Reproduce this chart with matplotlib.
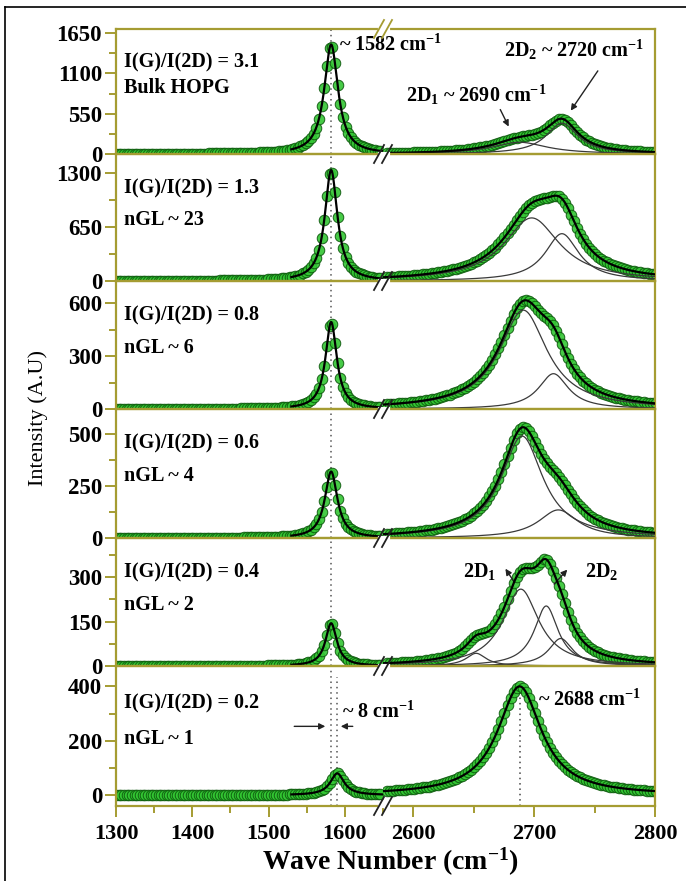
import numpy as np
import matplotlib.pyplot as plt
from matplotlib.lines import Line2D
from matplotlib.ticker import MultipleLocator

plt.rcParams['font.family'] = ['Liberation Serif', 'DejaVu Serif']
plt.rcParams['font.weight'] = 'bold'
plt.rcParams['mathtext.fontset'] = 'custom'
plt.rcParams['mathtext.rm'] = 'Liberation Serif:bold'
plt.rcParams['mathtext.it'] = 'Liberation Serif:bold'
plt.rcParams['mathtext.bf'] = 'Liberation Serif:bold'
plt.rcParams['mathtext.default'] = 'rm'

# samples, top to bottom
ratio = [3.1, 1.3, 0.8, 0.6, 0.4, 0.2]
layers = ['Bulk HOPG', 'nGL ~ 23', 'nGL ~ 6', 'nGL ~ 4', 'nGL ~ 2', 'nGL ~ 1']

# G band centre and FWHM (cm-1)
g_pos = [1582, 1582, 1582, 1582, 1582, 1590]
g_fwhm = [22, 20, 18, 20, 18, 22]

# 2D band lorentzian components: (centre, FWHM, height)
d2_peaks = [
    [(2688, 55, 160), (2723, 32, 420)],
    [(2698, 56, 760), (2723, 34, 570)],
    [(2691, 48, 560), (2716, 30, 200)],
    [(2690, 42, 490), (2720, 40, 135)],
    [(2652, 20, 43), (2689, 36, 260), (2710, 24, 203), (2722, 24, 93)],
    [(2688, 44, 400)],
]

# y range and major tick step of each panel
y_lims = [(0, 1705), (0, 1530), (0, 725), (0, 620), (0, 433), (-40, 475)]
y_step = [550, 650, 300, 250, 150, 200]

x_left = (1300, 1650)
x_right = (2575, 2800)

W, H = 686, 881
olive = '#a59c32'
FS = 14.5


def lorentz(x, x0, fwhm, h):
    return h / (1 + ((x - x0) / (fwhm / 2)) ** 2)


def fx(px):
    return px / W


def fy(py):
    return 1 - py / H


fig = plt.figure(figsize=(W / 100, H / 100), dpi=100)

# panel edges in pixels
left_px, brk_px, right_px = 116, 383, 655
edges = [29, 154, 281, 409, 538, 666, 806]

xs_l = np.arange(1300, 1649, 3.5)
xs_r = np.arange(2578, 2801, 2.5)
fit_l = np.linspace(1530, 1650, 400)
fit_r = np.linspace(2575, 2800, 600)

axes = []
for i in range(6):
    top, bot = edges[i], edges[i + 1]
    h = (bot - top) / H
    axl = fig.add_axes([fx(left_px), fy(bot), (brk_px - left_px) / W, h])
    axr = fig.add_axes([fx(brk_px), fy(bot), (right_px - brk_px) / W, h])
    axes.append((axl, axr))

    d2_total = lambda x: sum(lorentz(x, *p) for p in d2_peaks[i])
    d2_max = d2_total(fit_r).max()
    g_h = ratio[i] * d2_max
    g_curve = lambda x: lorentz(x, g_pos[i], g_fwhm[i], g_h)

    for ax, xl in ((axl, x_left), (axr, x_right)):
        ax.set_facecolor('none')
        ax.set_xlim(*xl)
        ax.set_ylim(*y_lims[i])
        for s in ax.spines.values():
            s.set_color(olive)
            s.set_linewidth(1.6)
    axl.spines['right'].set_visible(False)
    axr.spines['left'].set_visible(False)

    mk = dict(ls='none', marker='o', ms=7.6, mfc='#33c633', mec='#0c560c',
              mew=0.7, alpha=0.9, zorder=2)
    axl.plot(xs_l, g_curve(xs_l), **mk)
    axr.plot(xs_r, d2_total(xs_r), **mk)
    axl.plot(fit_l, g_curve(fit_l), color='black', lw=1.6, zorder=3)
    if len(d2_peaks[i]) > 1:
        for p in d2_peaks[i]:
            axr.plot(fit_r, lorentz(fit_r, *p), color='#3a3a3a', lw=0.9, zorder=3)
    axr.plot(fit_r, d2_total(fit_r), color='black', lw=1.6, zorder=4)

    # G position guide
    axl.axvline(1582, color='#555555', lw=1.1, ls=(0, (1, 2.5)), zorder=1)

    axl.yaxis.set_major_locator(MultipleLocator(y_step[i]))
    axl.yaxis.set_minor_locator(MultipleLocator(y_step[i] / 2))
    axl.tick_params(axis='y', which='both', direction='out', color=olive,
                    width=1.4, labelsize=16.5, pad=2)
    axl.tick_params(axis='y', which='major', length=8)
    axl.tick_params(axis='y', which='minor', length=5)
    axr.tick_params(axis='y', which='both', left=False, labelleft=False)

    axl.text(0.03, 0.73, 'I(G)/I(2D) = %.1f' % ratio[i], transform=axl.transAxes,
             fontsize=FS, va='center')
    axl.text(0.03, 0.53 if i == 0 else 0.48, layers[i], transform=axl.transAxes,
             fontsize=FS, va='center')

    if i < 5:
        for ax in (axl, axr):
            ax.tick_params(axis='x', which='both', bottom=False, labelbottom=False)

# bottom x axis
axl, axr = axes[5]
axl.xaxis.set_major_locator(MultipleLocator(100))
axl.xaxis.set_minor_locator(MultipleLocator(50))
axr.xaxis.set_major_locator(MultipleLocator(100))
axr.xaxis.set_minor_locator(MultipleLocator(50))
for ax in (axl, axr):
    ax.tick_params(axis='x', which='both', direction='out', color=olive,
                   width=1.4, labelsize=16, pad=5)
    ax.tick_params(axis='x', which='major', length=8)
    ax.tick_params(axis='x', which='minor', length=5)

# shifted G line and 2D centre for the single layer
axl.axvline(g_pos[5], ymax=0.92, color='#555555', lw=1.1, ls=(0, (1, 2.5)), zorder=1)
c6, _, h6 = d2_peaks[5][0]
axr.plot([c6, c6], [y_lims[5][0], h6 * 0.97], color='#444444', lw=1.1,
         ls=(0, (1, 2.5)), zorder=1)

arrow = dict(arrowstyle='-|>', color='#222222', lw=1, mutation_scale=9)

# annotations
ax1l, ax1r = axes[0]
ax1l.text(1592, 1480, r'~ 1582 cm$^{-1}$', fontsize=FS, va='center', clip_on=False)
ax1r.text(2733, 1415, r'2D$_2$ ~ 2720 cm$^{-1}$', fontsize=FS, ha='center', va='center')
ax1r.annotate('', xy=(2729, 560), xytext=(2754, 1165), arrowprops=arrow)
ax1r.text(2652, 805, r'2D$_1$ ~ 2690 cm$^{-1}$', fontsize=FS, ha='center', va='center')
ax1r.annotate('', xy=(2680, 340), xytext=(2671, 640), arrowprops=arrow)

ax5r = axes[4][1]
ax5r.text(2655, 320, r'2D$_1$', fontsize=FS, ha='center', va='center')
ax5r.annotate('', xy=(2675, 337), xytext=(2685, 275), arrowprops=arrow)
ax5r.text(2756, 320, r'2D$_2$', fontsize=FS, ha='center', va='center')
ax5r.annotate('', xy=(2729, 333), xytext=(2715, 270), arrowprops=arrow)

ax6l, ax6r = axes[5]
ax6l.text(1596, 305, r'~ 8 cm$^{-1}$', fontsize=FS, va='center', clip_on=False)
ax6l.annotate('', xy=(1578, 253), xytext=(1530, 253), arrowprops=arrow)
ax6l.annotate('', xy=(1591, 253), xytext=(1614, 253), arrowprops=arrow)
ax6r.text(2703, 349, r'~ 2688 cm$^{-1}$', fontsize=FS, va='center')

# axis break marks
for k, ey in enumerate(edges):
    col = olive if k == 0 else '#222222'
    fig.add_artist(Line2D([fx(brk_px - 3), fx(brk_px + 5)], [fy(ey), fy(ey)],
                          color='white', lw=3))
    for dx in (-4, 4):
        fig.add_artist(Line2D([fx(brk_px + dx - 5), fx(brk_px + dx + 5)],
                              [fy(ey + 9), fy(ey - 9)], color=col, lw=1.3))

fig.text(fx(390), fy(862), r'Wave Number (cm$^{-1}$)', fontsize=20,
         ha='center', va='center')
fig.text(fx(38), fy(418), 'Intensity (A.U)', fontsize=16, fontweight='normal',
         rotation=90, ha='center', va='center')

# outer frame
fig.add_artist(Line2D([fx(5), fx(5)], [fy(7), 0], color='black', lw=1.2))
fig.add_artist(Line2D([fx(5), 1], [fy(7), fy(7)], color='black', lw=1.2))

fig.savefig('out.png', dpi=100)
